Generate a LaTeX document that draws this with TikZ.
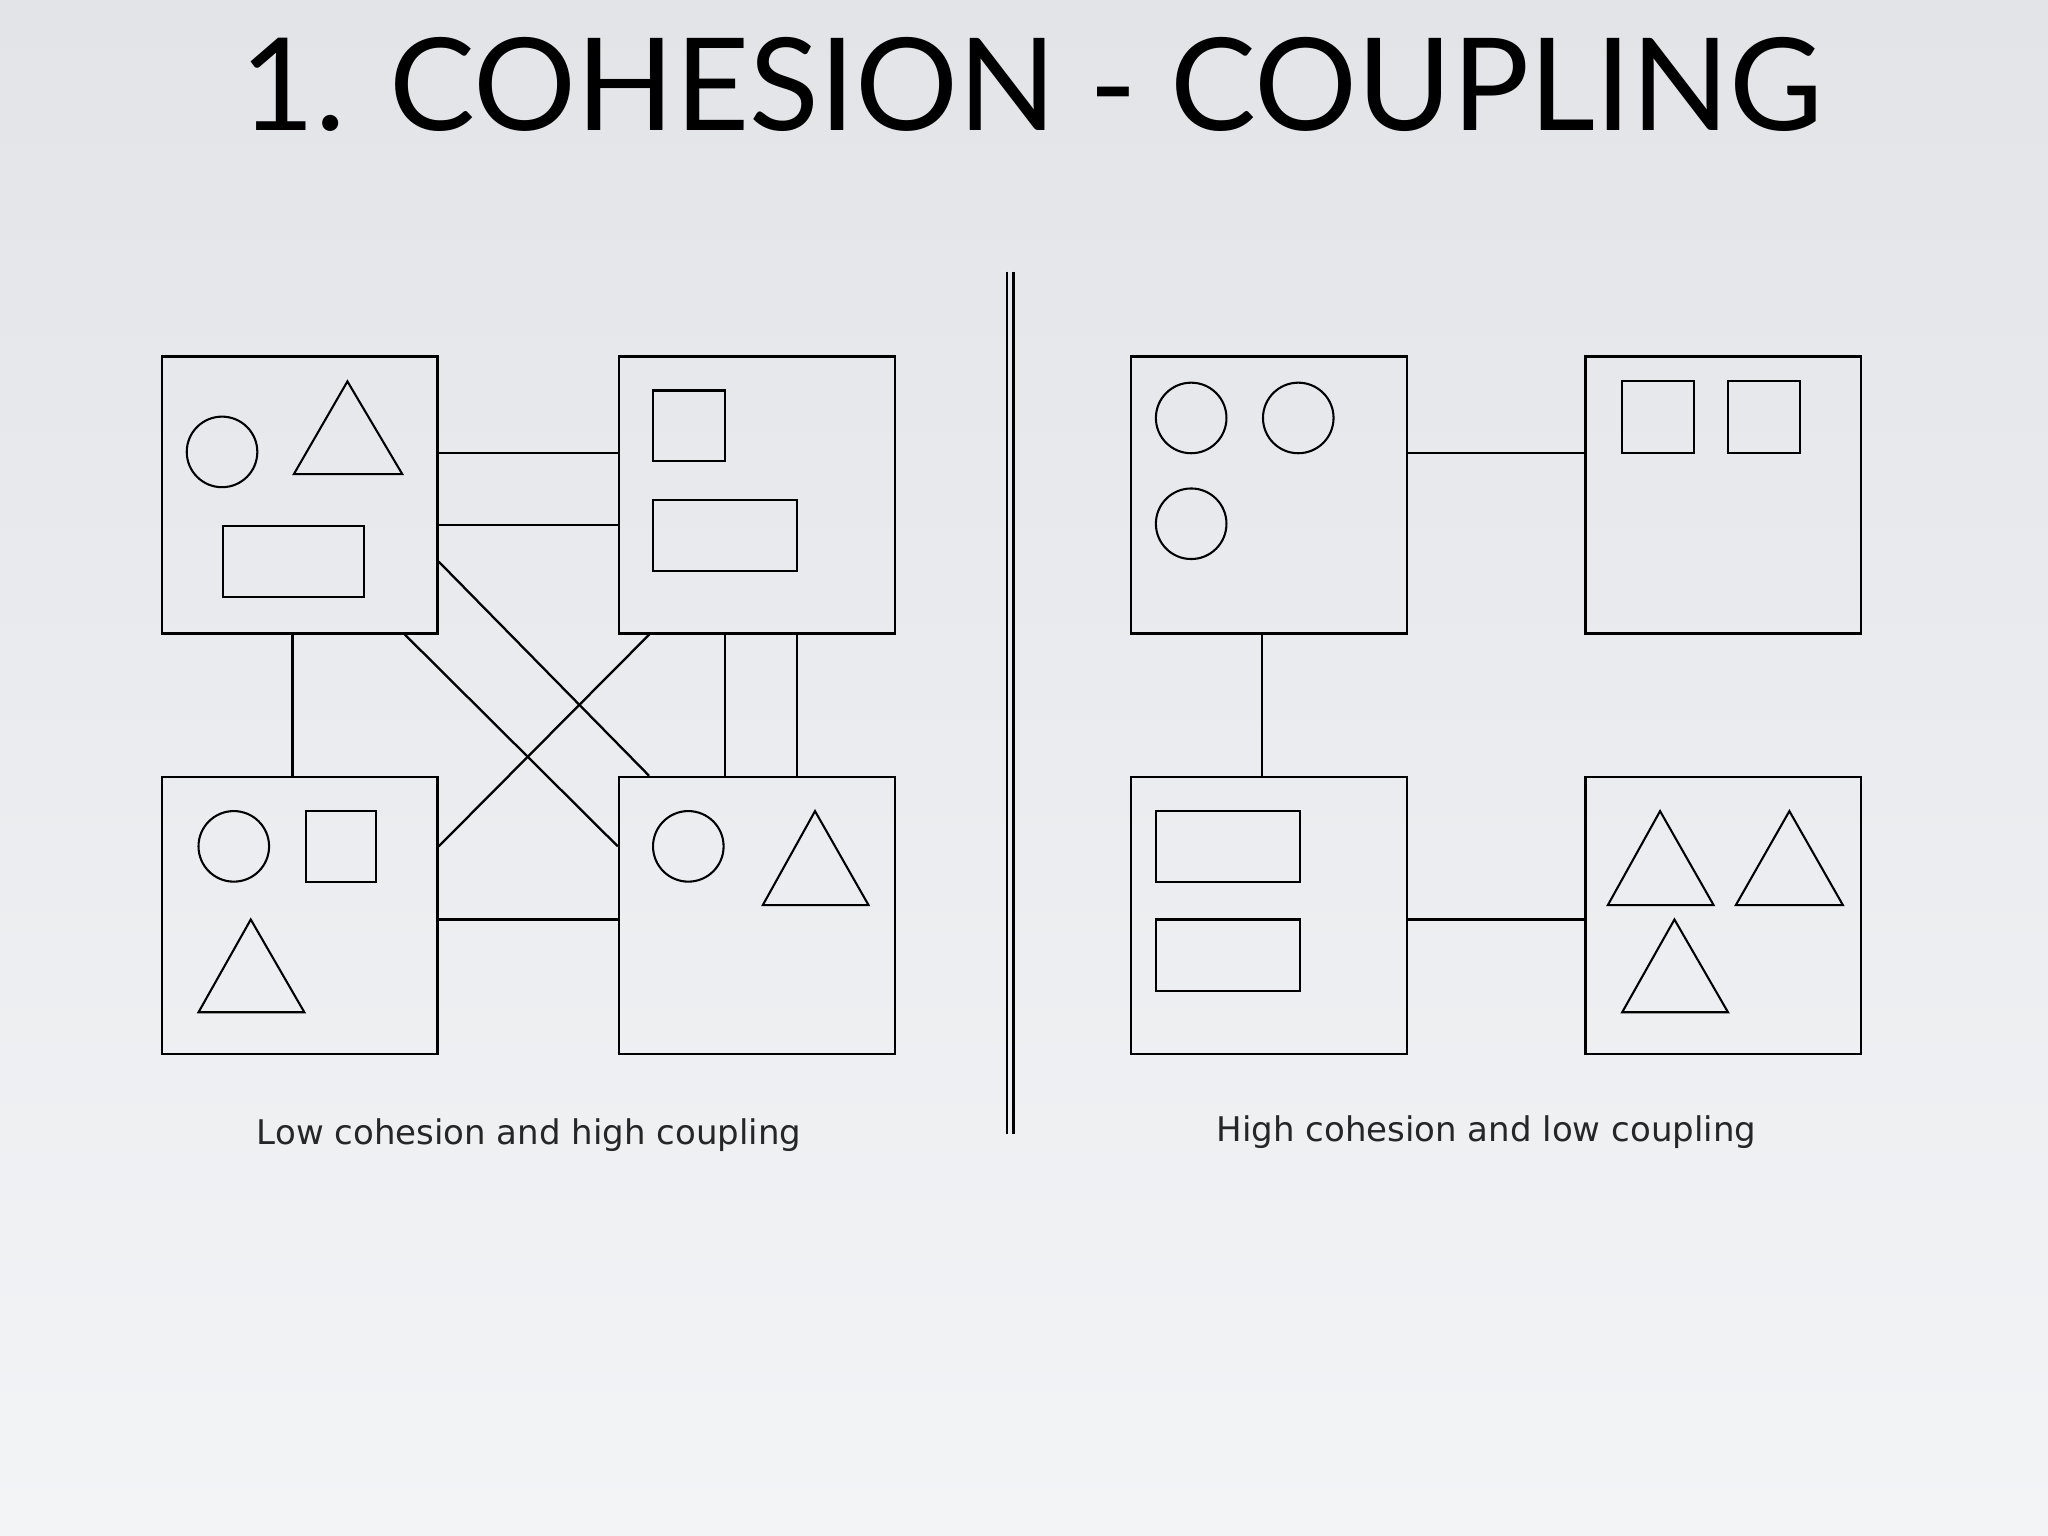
\documentclass[tikz,border=0pt]{standalone}
\usepackage{fontspec}
\setmainfont{Lato}
\newfontfamily\lblfont{DejaVu Sans}
\definecolor{bgtop}{HTML}{E2E4E8}
\definecolor{bgbot}{HTML}{F3F4F6}
\begin{document}
\begin{tikzpicture}[x=0.01cm,y=-0.01cm,
  modbox/.style={draw,line width=0.5pt,minimum width=2.11cm,minimum height=2.12cm,inner sep=0,anchor=north west},
  shp/.style={draw,line width=0.45pt},
  link/.style={draw,line width=0.5pt},
  lbl/.style={font=\lblfont\fontsize{7.4}{9}\selectfont,text=black!85}]
\shade[top color=bgtop,bottom color=bgbot] (0,0) rectangle (1568,1176);
\useasboundingbox (0,0) rectangle (1568,1176);
\node (title) at (790,65) {\fontsize{28}{32}\selectfont 1. COHESION - COUPLING};
% left side
\node[modbox] (ltl) at (123,272) {};
\node[modbox] (ltr) at (473,272) {};
\node[modbox] (lbl) at (123,594) {};
\node[modbox] (lbr) at (473,594) {};
\draw[shp] (170,346) circle (0.27cm);
\draw[shp] (225,363) -- (308,363) -- (266,292) -- cycle;
\draw[shp] (171,403) rectangle (279,457);
\draw[shp] (500,299) rectangle (555,353);
\draw[shp] (500,383) rectangle (610,437);
\draw[shp] (179,648) circle (0.27cm);
\draw[shp] (234,621) rectangle (288,675);
\draw[shp] (152,775) -- (233,775) -- (192,704) -- cycle;
\draw[shp] (527,648) circle (0.27cm);
\draw[shp] (584,693) -- (665,693) -- (624,621) -- cycle;
\draw[link] (ltl.east |- 0,347) -- (ltr.west |- 0,347);
\draw[link] (ltl.east |- 0,402) -- (ltr.west |- 0,402);
\draw[link] (ltl.south -| 224,0) -- (lbl.north -| 224,0);
\draw[link] (ltl.east |- 0,430) -- (lbr.north -| 497,0);
\draw[link] (ltl.south -| 310,0) -- (lbr.west |- 0,648);
\draw[link] (ltr.south -| 497,0) -- (lbl.east |- 0,648);
\draw[link] (ltr.south -| 555,0) -- (lbr.north -| 555,0);
\draw[link] (ltr.south -| 610,0) -- (lbr.north -| 610,0);
\draw[link] (lbl.east |- 0,704) -- (lbr.west |- 0,704);
\node[lbl] (lcap) at (405,869) {Low cohesion and high coupling};
% divider
\draw[line width=0.6pt] (771,208) -- (771,868) (776,208) -- (776,868);
% right side
\node[modbox] (rtl) at (865,272) {};
\node[modbox] (rtr) at (1213,272) {};
\node[modbox] (rbl) at (865,594) {};
\node[modbox] (rbr) at (1213,594) {};
\draw[shp] (912,320) circle (0.27cm) (994,320) circle (0.27cm) (912,401) circle (0.27cm);
\draw[shp] (1242,292) rectangle (1297,347) (1323,292) rectangle (1378,347);
\draw[shp] (885,621) rectangle (995,675) (885,704) rectangle (995,759);
\draw[shp] (1231,693) -- (1312,693) -- (1271,621) -- cycle;
\draw[shp] (1329,693) -- (1411,693) -- (1370,621) -- cycle;
\draw[shp] (1242,775) -- (1323,775) -- (1282,704) -- cycle;
\draw[link] (rtl.east |- 0,347) -- (rtr.west |- 0,347);
\draw[link] (rtl.south -| 966,0) -- (rbl.north -| 966,0);
\draw[link] (rbl.east |- 0,704) -- (rbr.west |- 0,704);
\node[lbl] (rcap) at (1138,867) {High cohesion and low coupling};
\end{tikzpicture}
\end{document}
